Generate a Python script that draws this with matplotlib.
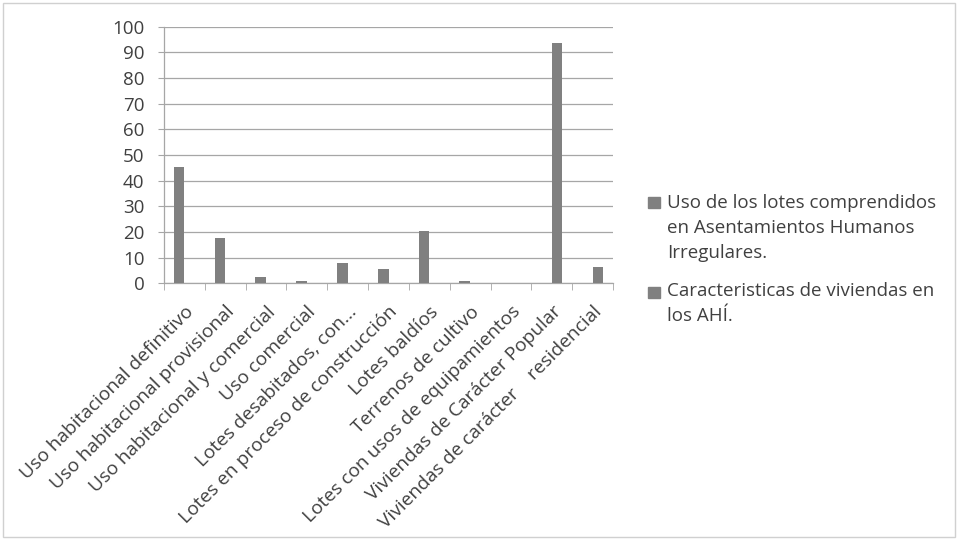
import matplotlib
matplotlib.use("Agg")
import matplotlib.pyplot as plt
import numpy as np
from matplotlib.patches import Rectangle

categories = [
    "Uso habitacional definitivo",
    "Uso habitacional provisional",
    "Uso habitacional y comercial",
    "Uso comercial",
    "Lotes desabitados, con...",
    "Lotes en proceso de construcción",
    "Lotes baldíos",
    "Terrenos de cultivo",
    "Lotes con usos de equipamientos",
    "Viviendas de Carácter Popular",
    "Viviendas de carácter    residencial",
]
series1_name = "Uso de los lotes comprendidos\nen Asentamientos Humanos\nIrregulares."
series2_name = "Caracteristicas de viviendas en\nlos AHÍ."
series1_values = [45.3, 17.6, 2.3, 0.8, 8.0, 5.4, 20.2, 1.0, 0.2]
series2_values = [93.8, 6.5]
yticks = [0, 10, 20, 30, 40, 50, 60, 70, 80, 90, 100]

plt.rcParams['font.family'] = ['Open Sans', 'DejaVu Sans']
text_color = "#404040"
bar_color = "#808080"
grid_color = "#a6a6a6"

fig = plt.figure(figsize=(9.61, 5.4), dpi=100)
W, H = 961, 540
ax_l, ax_r, ax_t, ax_b = 164, 613, 26.7, 283.3
ax = fig.add_axes([ax_l / W, 1 - ax_b / H, (ax_r - ax_l) / W, (ax_b - ax_t) / H])

n = len(categories)
x = np.arange(n)
width = 0.262
s1 = np.full(n, np.nan)
s1[:len(series1_values)] = series1_values
s2 = np.full(n, np.nan)
s2[n - len(series2_values):] = series2_values

ax.bar(x - width / 2, s1, width=width, color=bar_color, label=series1_name, zorder=3)
ax.bar(x + width / 2, s2, width=width, color=bar_color, label=series2_name, zorder=3)

ax.set_xlim(-0.5, n - 0.5)
ax.set_ylim(0, 100)
ax.set_yticks(yticks)
ax.set_yticklabels([str(v) for v in yticks], fontsize=13.5, color=text_color)
ax.yaxis.grid(True, color=grid_color, linewidth=0.9, zorder=0)
ax.set_axisbelow(True)

ax.set_xticks(x)
ax.set_xticklabels(categories, rotation=45, ha="right", rotation_mode="anchor",
                   fontsize=13.8, color=text_color)
ax.tick_params(axis="x", which="major", length=0, pad=14)
ax.set_xticks(np.arange(-0.5, n, 1.0), minor=True)
ax.tick_params(axis="x", which="minor", length=5, color=grid_color, direction="out")
ax.tick_params(axis="y", length=4.5, color=grid_color, direction="out", pad=9.5)

for s in ["top", "right"]:
    ax.spines[s].set_visible(False)
for s in ["left", "bottom"]:
    ax.spines[s].set_color(grid_color)
    ax.spines[s].set_linewidth(0.9)

# legend (manual layout to align markers with first line)
leg_entries = [(series1_name, 202, 194), (series2_name, 292, 282)]
for label, ymark, ytext in leg_entries:
    fig.add_artist(Rectangle((648 / W, 1 - (ymark + 5.5) / H), 12 / W, 11 / H,
                             transform=fig.transFigure, color=bar_color))
    fig.text(667 / W, 1 - ytext / H, label, fontsize=13.5, color=text_color,
             va="top", ha="left", linespacing=1.5)

# chart border
fig.add_artist(Rectangle((3 / W, 3 / H), (955 - 3) / W, (537 - 3) / H,
                         transform=fig.transFigure, fill=False,
                         edgecolor="#d0d0d0", linewidth=1))

fig.savefig("out.png", dpi=100, facecolor="white")
